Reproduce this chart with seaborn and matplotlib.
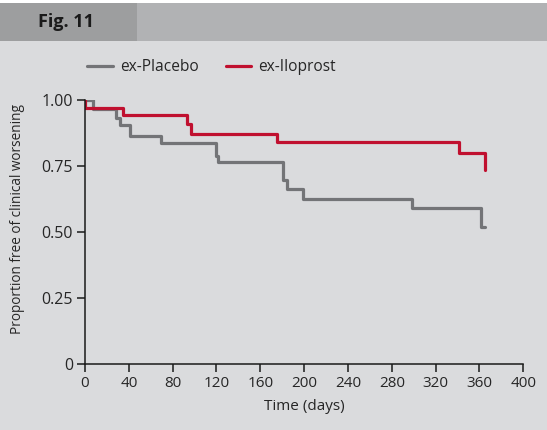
import numpy as np
import pandas as pd
import matplotlib
matplotlib.use('Agg')
import matplotlib.pyplot as plt
from matplotlib.patches import Rectangle
from matplotlib.lines import Line2D
import seaborn as sns

# Kaplan-Meier steps
placebo_days = [0, 7.6, 28.3, 32, 41, 69, 120, 121.6, 181, 184, 199, 298.6, 361, 365]
placebo_surv = [1.0, 0.967, 0.933, 0.905, 0.865, 0.836, 0.788, 0.764, 0.697, 0.662, 0.624, 0.590, 0.521, 0.521]
iloprost_days = [0, 0, 35, 93, 97, 175.5, 341.5, 365]
iloprost_surv = [1.0, 0.968, 0.942, 0.908, 0.871, 0.841, 0.798, 0.737]

x_ticks = [0, 40, 80, 120, 160, 200, 240, 280, 320, 360, 400]
y_ticks = [0, 0.25, 0.50, 0.75, 1.00]
y_ticklabels = ['0', '0.25', '0.50', '0.75', '1.00']

BG = '#dadbdd'
GRAY = '#737477'
RED = '#c0102f'

sns.set_style('ticks')
plt.rcParams['font.family'] = ['Open Sans', 'DejaVu Sans']

df = pd.concat([
    pd.DataFrame({'day': placebo_days, 'surv': placebo_surv, 'group': 'ex-Placebo'}),
    pd.DataFrame({'day': iloprost_days, 'surv': iloprost_surv, 'group': 'ex-Iloprost'}),
], ignore_index=True)

fig = plt.figure(figsize=(5.47, 4.30), dpi=100, facecolor=BG)
ax = fig.add_axes([85 / 547, 1 - 364.3 / 430, (523.3 - 85) / 547, (364.3 - 100) / 430])
ax.set_facecolor(BG)

sns.lineplot(data=df, x='day', y='surv', hue='group', palette={'ex-Placebo': GRAY, 'ex-Iloprost': RED},
             estimator=None, sort=False, drawstyle='steps-post', linewidth=2.3, ax=ax, legend=False)

ax.set_xlim(0, 400)
ax.set_ylim(0, 1.0)
ax.set_xticks(x_ticks)
ax.set_yticks(y_ticks)
ax.set_yticklabels(y_ticklabels)
ax.tick_params(direction='out', length=5.5, width=1.1, color='#1a1a1a', labelsize=11, pad=3)
ax.tick_params(axis='y', labelsize=11.5)
for s in ['top', 'right']:
    ax.spines[s].set_visible(False)
for s in ['left', 'bottom']:
    ax.spines[s].set_color('#1a1a1a')
    ax.spines[s].set_linewidth(1.1)
ax.spines['left'].set_zorder(5)
ax.set_xlabel('Time (days)', fontsize=11, labelpad=6)
ax.set_ylabel('Proportion free of clinical worsening', fontsize=9.8)
ax.yaxis.set_label_coords((25 - 85) / 438.3, (364.3 - 219) / 264.3)

handles = [Line2D([], [], color=GRAY, lw=2.3), Line2D([], [], color=RED, lw=2.3)]
fig.legend(handles, ['ex-Placebo', 'ex-Iloprost'], loc='center left',
           bbox_to_anchor=(73 / 547, 1 - 67 / 430), ncol=2, frameon=False,
           fontsize=11.2, handlelength=1.65, handletextpad=0.45, columnspacing=1.75)

# header band
fig.patches.append(Rectangle((0, 1 - 40.7 / 430), 1, 37.4 / 430, transform=fig.transFigure,
                             facecolor='#b1b2b4', edgecolor='none'))
fig.patches.append(Rectangle((0, 1 - 40.7 / 430), 137 / 547, 37.4 / 430, transform=fig.transFigure,
                             facecolor='#9d9e9f', edgecolor='none'))
fig.patches.append(Rectangle((0, 1 - 3.3 / 430), 1, 3.3 / 430, transform=fig.transFigure,
                             facecolor='white', edgecolor='none'))
fig.text(38 / 547, 1 - 22 / 430, 'Fig. 11', fontsize=13, fontweight='bold', color='#1a1a1a',
         ha='left', va='center')

fig.savefig('out.png', dpi=100, facecolor=BG)
